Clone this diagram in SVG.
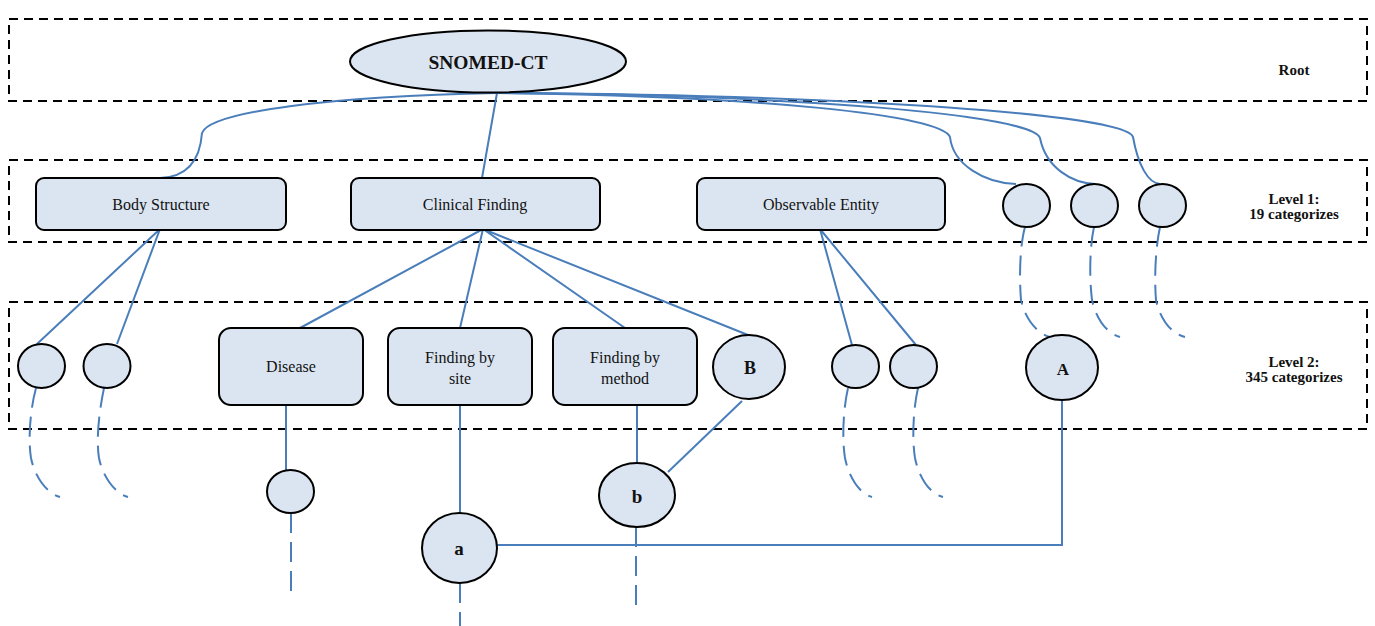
<svg xmlns="http://www.w3.org/2000/svg" width="1375" height="626" viewBox="0 0 1375 626">
<style>
.band{fill:none;stroke:#000;stroke-width:2;stroke-dasharray:9 6}
.nd{fill:#dbe5f1;stroke:#000;stroke-width:2}
.c{fill:none;stroke:#4a7ebb;stroke-width:2}
.d{fill:none;stroke:#4a7ebb;stroke-width:2;stroke-dasharray:20 9}
.t{font-family:"Liberation Serif",serif;font-size:16px;fill:#111;text-anchor:middle}
.b{font-family:"Liberation Serif",serif;font-weight:bold;fill:#111;text-anchor:middle}
.lab{font-family:"Liberation Serif",serif;font-weight:bold;font-size:15px;fill:#111;text-anchor:middle}
</style>
<rect width="1375" height="626" fill="#fff"/>
<g id="bands">
<rect class="band" x="9" y="19" width="1358" height="82"/>
<rect class="band" x="9" y="160" width="1358" height="82"/>
<rect class="band" x="9" y="302" width="1358" height="127"/>
<text class="lab" x="1294" y="75">Root</text>
<text class="lab" x="1294" y="204">Level 1:</text>
<text class="lab" x="1294" y="219">19 categorizes</text>
<text class="lab" x="1294" y="367">Level 2:</text>
<text class="lab" x="1294" y="382">345 categorizes</text>
</g>
<g id="connectors">
<path class="c" d="M497 93 L482 178"/>
<path class="c" d="M497 93 C330 96 210 112 202 133 C200 160 188 177 160 178"/>
<path class="c" d="M497 93 C760 96 942 115 950 137 C953 165 985 183 1016 184"/>
<path class="c" d="M497 93 C800 95 1033 115 1040 138 C1046 168 1072 183 1095 184"/>
<path class="c" d="M497 93 C860 95 1126 115 1133 137 C1138 165 1148 183 1160 184"/>
<path class="c" d="M160 229 L37 344 M160 229 L117 344"/>
<path class="c" d="M483 229 L300 328 M483 229 L460 328 M483 229 L625 328 M483 229 L748 335"/>
<path class="c" d="M820 229 L852 345 M820 229 L916 345"/>
<path class="c" d="M286 405 L286 471"/>
<path class="d" d="M291 513 L291 592"/>
<path class="c" d="M460 405 L460 513"/>
<path class="d" d="M460 583 L460 626"/>
<path class="c" d="M637 405 L637 463"/>
<path class="c" d="M742 401 L668 472"/>
<path class="d" d="M636 527 L636 605"/>
<path class="c" d="M497 545 L1062 545 L1062 400"/>
<path class="d" d="M36 388 C30 410 28 440 31 458 C35 478 48 494 60 497"/>
<path class="d" d="M104 388 C99 412 96 440 99 458 C103 478 116 494 128 497"/>
<path class="d" d="M848 388 C843 410 842 440 845 458 C849 478 860 494 872 497"/>
<path class="d" d="M918 388 C913 410 912 440 915 458 C919 478 930 494 943 497"/>
<path class="d" d="M1025 227 C1020 245 1019 275 1021 300 C1025 318 1036 333 1050 337"/>
<path class="d" d="M1094 227 C1090 245 1089 275 1092 300 C1096 318 1106 333 1120 337"/>
<path class="d" d="M1160 227 C1156 245 1154 275 1156 300 C1160 318 1170 333 1185 337"/>
</g>
<g id="snomed"><ellipse class="nd" cx="488" cy="61.5" rx="138" ry="31"/><text class="b" font-size="19.5" x="488" y="69">SNOMED-CT</text></g>
<g id="body-structure"><rect class="nd" x="36" y="178" width="250" height="52" rx="8"/><text class="t" x="161" y="210">Body Structure</text></g>
<g id="clinical-finding"><rect class="nd" x="351" y="178" width="249" height="52" rx="8"/><text class="t" x="475" y="210">Clinical Finding</text></g>
<g id="observable-entity"><rect class="nd" x="697" y="178" width="248" height="52" rx="8"/><text class="t" x="821" y="210">Observable Entity</text></g>
<g id="l1-c1"><ellipse class="nd" cx="1026.5" cy="205.5" rx="23.5" ry="21.5"/></g>
<g id="l1-c2"><ellipse class="nd" cx="1094.5" cy="205.5" rx="23.5" ry="21.5"/></g>
<g id="l1-c3"><ellipse class="nd" cx="1162.5" cy="205.5" rx="23.5" ry="21.5"/></g>
<g id="l2-c1"><ellipse class="nd" cx="41.5" cy="366" rx="23.5" ry="22"/></g>
<g id="l2-c2"><ellipse class="nd" cx="107" cy="366" rx="23.5" ry="22"/></g>
<g id="disease"><rect class="nd" x="219" y="328" width="144" height="77" rx="12"/><text class="t" x="291" y="372">Disease</text></g>
<g id="finding-by-site"><rect class="nd" x="388" y="328" width="144" height="77" rx="12"/><text class="t" x="460" y="363">Finding by</text><text class="t" x="460" y="384">site</text></g>
<g id="finding-by-method"><rect class="nd" x="553" y="328" width="144" height="77" rx="12"/><text class="t" x="625" y="363">Finding by</text><text class="t" x="625" y="384">method</text></g>
<g id="B"><ellipse class="nd" cx="749" cy="367" rx="36" ry="32"/><text class="b" font-size="18" x="750" y="374">B</text></g>
<g id="l2-c3"><ellipse class="nd" cx="855.5" cy="366.5" rx="23.5" ry="21.5"/></g>
<g id="l2-c4"><ellipse class="nd" cx="913.5" cy="366.5" rx="23.5" ry="21.5"/></g>
<g id="A"><ellipse class="nd" cx="1062" cy="367.5" rx="36" ry="32.5"/><text class="b" font-size="17" x="1063" y="375">A</text></g>
<g id="disease-child"><ellipse class="nd" cx="290.5" cy="491.5" rx="23.5" ry="21.5"/></g>
<g id="b"><ellipse class="nd" cx="637" cy="495" rx="38" ry="32"/><text class="b" font-size="19" x="637" y="503">b</text></g>
<g id="a"><ellipse class="nd" cx="459.5" cy="548" rx="37.5" ry="35"/><text class="b" font-size="19" x="459" y="555">a</text></g>
</svg>
